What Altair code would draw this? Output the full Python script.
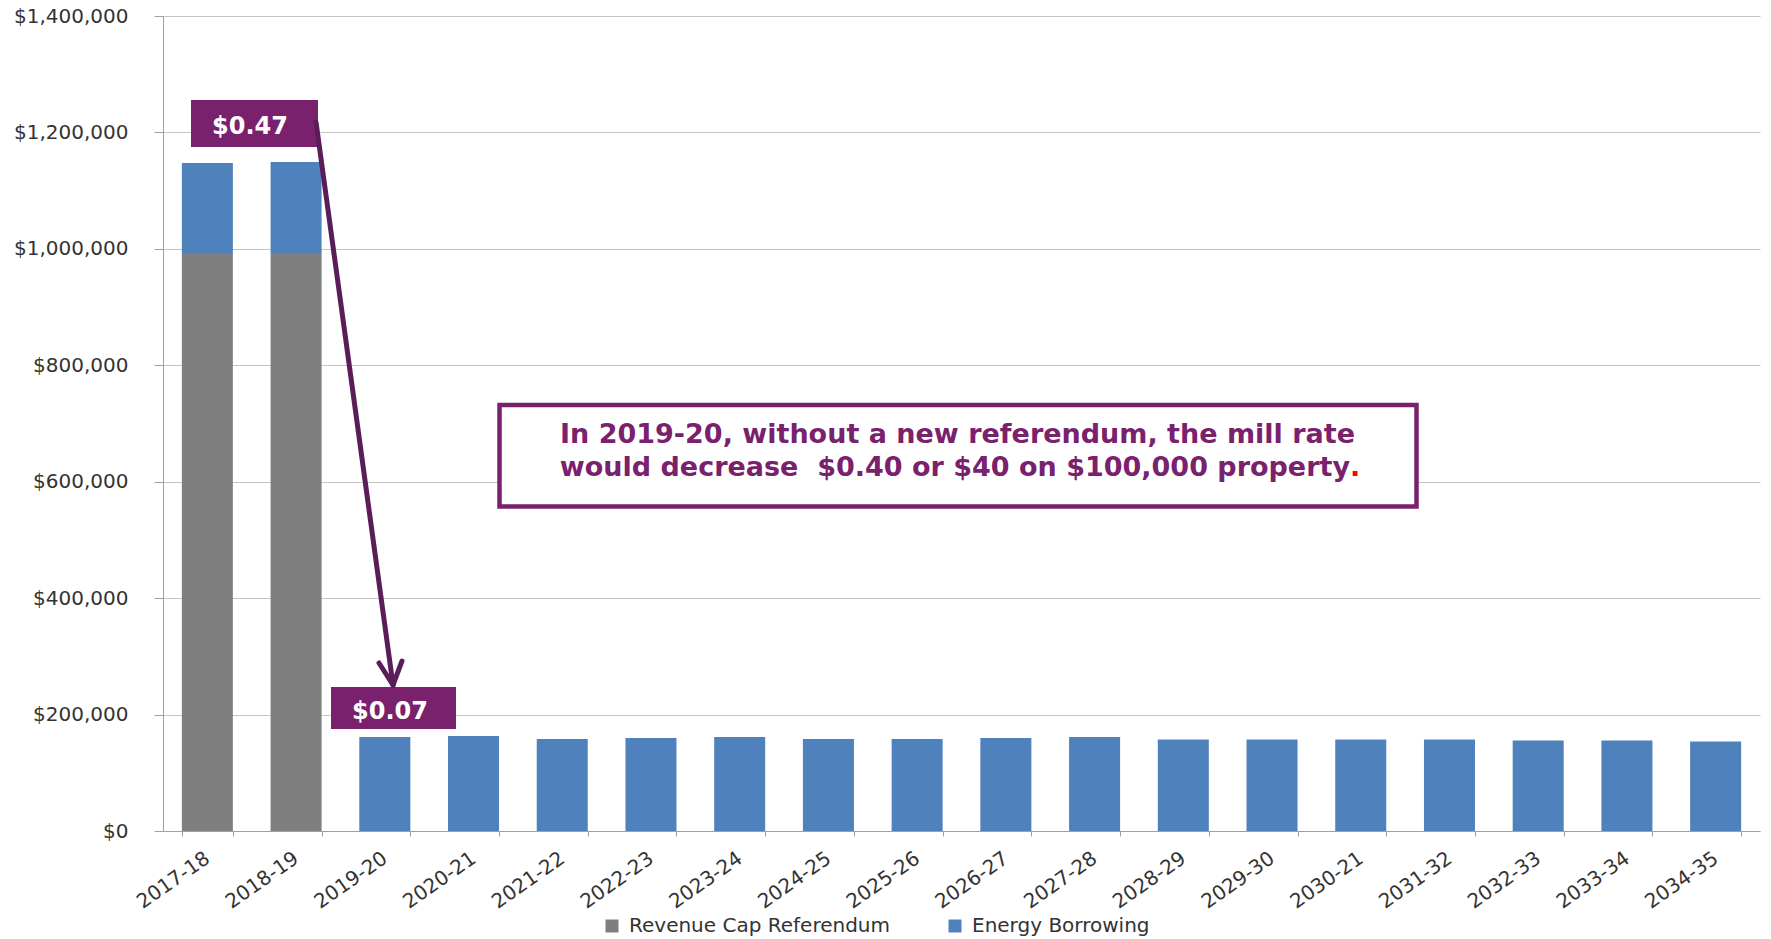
import altair as alt
import pandas as pd

# ---- data ----
years = ["2017-18", "2018-19", "2019-20", "2020-21", "2021-22", "2022-23",
         "2023-24", "2024-25", "2025-26", "2026-27", "2027-28", "2028-29",
         "2029-30", "2030-21", "2031-32", "2032-33", "2033-34", "2034-35"]
revenue_cap = [991000, 991000, 0, 0, 0, 0, 0, 0, 0, 0, 0, 0, 0, 0, 0, 0, 0, 0]
energy_borrowing = [156400, 158100, 161500, 163200, 158000, 159800, 161500,
                    158100, 158100, 159800, 161600, 157100, 157100, 157100,
                    157100, 155400, 155400, 153700]
series_names = ["Revenue Cap Referendum", "Energy Borrowing"]
series_colors = ["#7F7F7F", "#4F81BD"]
y_ticks = [0, 200000, 400000, 600000, 800000, 1000000, 1200000, 1400000]

label_high = "$0.47"
label_low = "$0.07"
note_line1 = "In 2019-20, without a new referendum, the mill rate"
note_line2 = "would decrease\u00a0 $0.40 or $40 on $100,000 property"

rows = []
for i, yr in enumerate(years):
    for k, (name, vals) in enumerate(zip(series_names, [revenue_cap, energy_borrowing])):
        if vals[i] > 0:
            rows.append({"year": yr, "series": name, "value": vals[i], "stack_order": k})
df = pd.DataFrame(rows)

FONT = "DejaVu Sans"
PURPLE = "#7A216E"
DARK_PURPLE = "#5B1D57"
LABEL_COLOR = "#333333"

bars = alt.Chart(df).mark_bar().encode(
    x=alt.X("year:N", sort=years,
            scale=alt.Scale(paddingInner=0.425, paddingOuter=0.2125),
            axis=alt.Axis(title=None, labelAngle=-35, labelAlign="right",
                          labelBaseline="middle", labelFontSize=20, labelFont=FONT,
                          labelColor=LABEL_COLOR, tickBand="extent", tickSize=5,
                          tickColor="#A0A0A0", domainColor="#A0A0A0",
                          labelPadding=20, grid=False, labelOverlap=False)),
    y=alt.Y("value:Q", stack="zero",
            scale=alt.Scale(domain=[0, 1400000], nice=False),
            axis=alt.Axis(title=None, values=y_ticks, format="$,.0f",
                          labelFontSize=20, labelFont=FONT, labelColor=LABEL_COLOR,
                          tickSize=9, tickColor="#A0A0A0", domainColor="#A0A0A0",
                          labelPadding=26, gridColor="#C4C4C4", gridWidth=1)),
    color=alt.Color("series:N",
                    scale=alt.Scale(domain=series_names, range=series_colors),
                    legend=alt.Legend(title=None, orient="none", direction="horizontal",
                                      legendX=439, legendY=900, symbolType="square",
                                      symbolSize=169, symbolStrokeWidth=0,
                                      labelFontSize=20, labelFont=FONT, labelLimit=0,
                                      labelColor=LABEL_COLOR, columnPadding=55,
                                      labelOffset=7)),
    order=alt.Order("stack_order:Q", sort="ascending"),
)

one = pd.DataFrame({"k": [0]})


def rect(x, x2, y, y2, **kw):
    return alt.Chart(one).mark_rect(**kw).encode(
        x=alt.value(x), x2=alt.value(x2), y=alt.value(y), y2=alt.value(y2))


def rule(x, y, x2, y2):
    return alt.Chart(one).mark_rule(color=DARK_PURPLE, strokeWidth=5,
                                    strokeCap="round").encode(
        x=alt.value(x), y=alt.value(y), x2=alt.value(x2), y2=alt.value(y2))


def text(t, x, y, **kw):
    return alt.Chart(one).mark_text(text=t, font=FONT, **kw).encode(
        x=alt.value(x), y=alt.value(y))


box_high = rect(28, 155, 84, 131, color=PURPLE)
txt_high = text(label_high, 49, 118, align="left", baseline="alphabetic",
                fontSize=24, fontWeight="bold", color="white")
box_low = rect(168, 293, 671, 713, color=PURPLE)
txt_low = text(label_low, 189, 703, align="left", baseline="alphabetic",
               fontSize=24, fontWeight="bold", color="white")

arrow_shaft = rule(153, 106, 230, 669)
arrow_left = rule(216, 647, 230, 669)
arrow_right = rule(239, 645, 230, 669)

NOTE_SIZE = 27
note_box = rect(336.5, 1253.5, 389, 490.5, fill="white", stroke=PURPLE, strokeWidth=4.5)
note1 = text(note_line1, 794.5, 427, align="center", baseline="alphabetic",
             fontSize=NOTE_SIZE, fontWeight="bold", color=PURPLE)
note2 = text(note_line2, 1187, 460, align="right", baseline="alphabetic",
             fontSize=NOTE_SIZE, fontWeight="bold", color=PURPLE)
note2_dot = text(".", 1187, 460, align="left", baseline="alphabetic",
                 fontSize=NOTE_SIZE, fontWeight="bold", color="#FF0000")

chart = alt.layer(
    bars, box_high, txt_high, box_low, txt_low,
    arrow_shaft, arrow_left, arrow_right,
    note_box, note1, note2, note2_dot,
).properties(
    width=1597, height=815,
    autosize=alt.AutoSizeParams(type="none"),
    padding={"left": 163, "top": 16, "right": 11, "bottom": 108},
).configure_view(strokeWidth=0)

chart.save("out.html", embed_options={"renderer": "svg", "actions": False})
